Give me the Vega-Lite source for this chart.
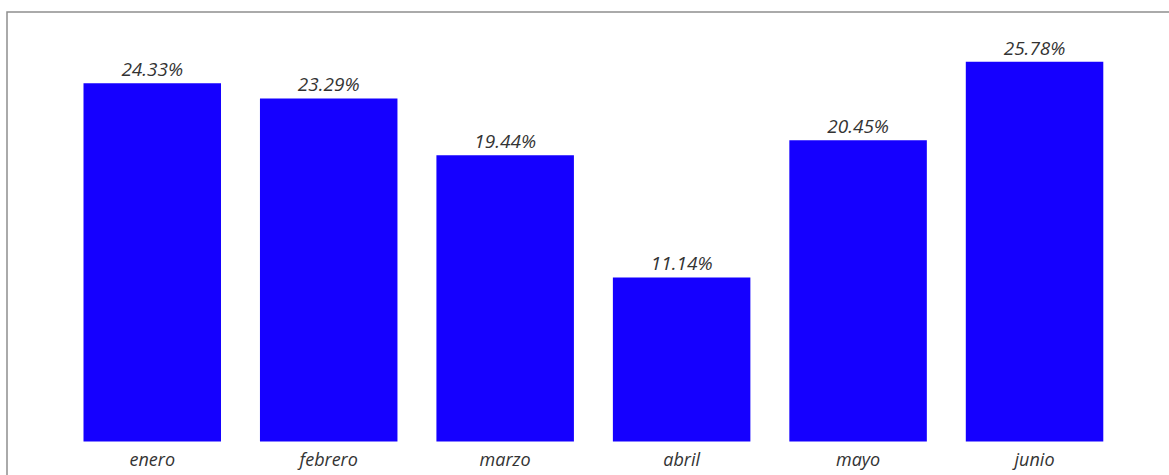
{
  "$schema": "https://vega.github.io/schema/vega-lite/v6.json",
  "width": 1164,
  "height": 465,
  "autosize": {"type": "none"},
  "padding": {"left": 7, "top": 12, "right": -2, "bottom": -2},
  "background": "white",
  "config": {
    "view": {"stroke": "#8f8f8f", "strokeWidth": 1.5},
    "font": "Open Sans"
  },
  "data": {
    "values": [
      {"mes": "enero", "valor": 0.2433},
      {"mes": "febrero", "valor": 0.2329},
      {"mes": "marzo", "valor": 0.1944},
      {"mes": "abril", "valor": 0.1114},
      {"mes": "mayo", "valor": 0.2045},
      {"mes": "junio", "valor": 0.2578}
    ]
  },
  "encoding": {
    "x": {
      "field": "mes",
      "type": "nominal",
      "sort": null,
      "scale": {"paddingInner": 0.2208, "paddingOuter": 0.4086, "align": 0.5305},
      "axis": {
        "title": null,
        "domain": false,
        "ticks": false,
        "tickSize": 0,
        "labelAngle": 0,
        "labelBaseline": "alphabetic",
        "labelPadding": 0,
        "offset": -12,
        "labelFont": "Open Sans",
        "labelFontStyle": "italic",
        "labelFontSize": 18,
        "labelColor": "#333333"
      }
    },
    "y": {
      "field": "valor",
      "type": "quantitative",
      "scale": {"domain": [-0.0241, 0.2916], "nice": false, "zero": false},
      "axis": null
    }
  },
  "layer": [
    {
      "mark": {"type": "bar", "color": "#1500ff"},
      "encoding": {"y2": {"datum": 0}}
    },
    {
      "mark": {
        "type": "text",
        "baseline": "alphabetic",
        "align": "center",
        "dy": -7,
        "font": "Open Sans",
        "fontStyle": "italic",
        "fontSize": 19,
        "color": "#333333"
      },
      "encoding": {
        "text": {"field": "valor", "type": "quantitative", "format": ".2%"}
      }
    }
  ]
}
